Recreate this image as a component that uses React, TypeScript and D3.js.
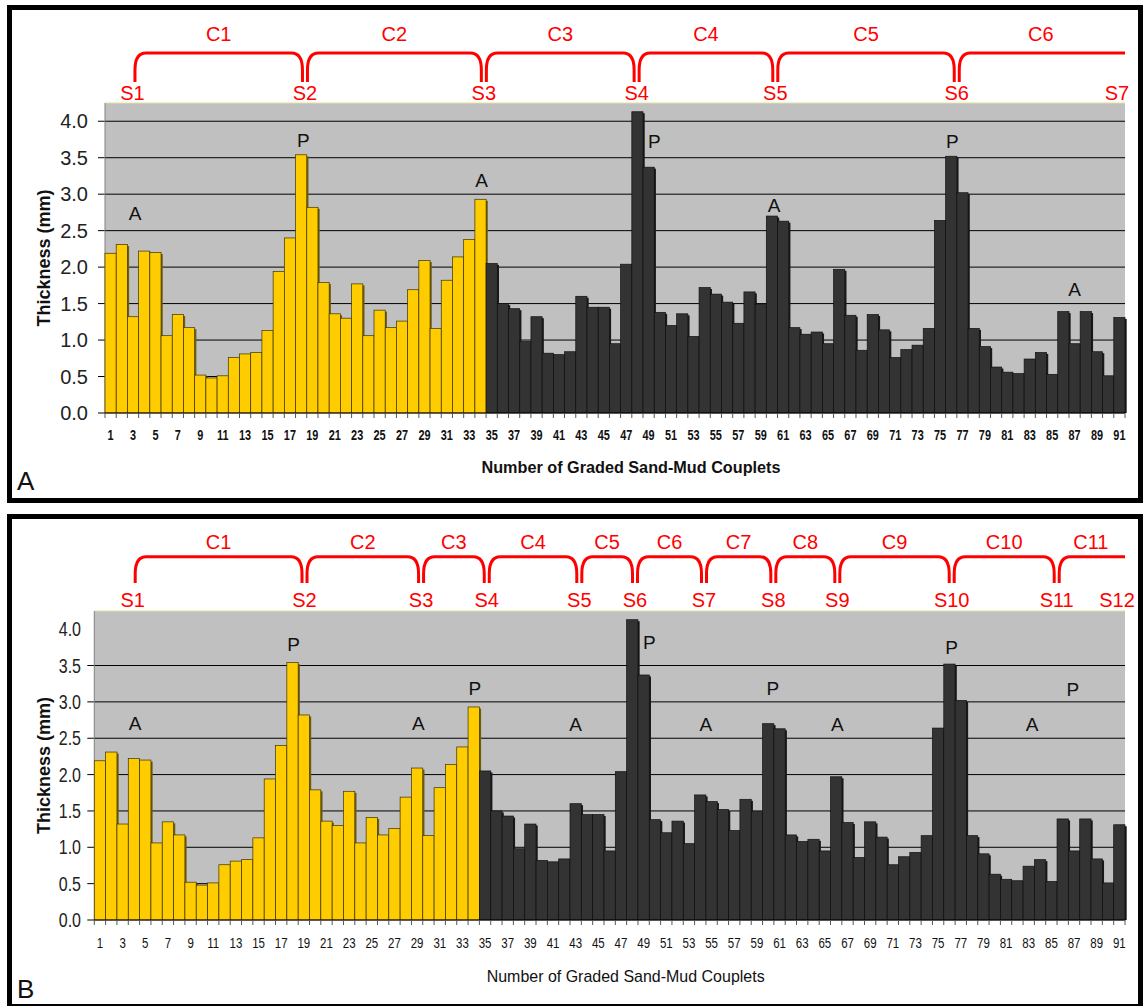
import * as d3 from "d3";

// thickness (mm) of each graded sand-mud couplet, 1..91
const thickness = [
  2.19, 2.31, 1.32, 2.22, 2.2, 1.06, 1.35, 1.17, 0.52, 0.48,
  0.51, 0.76, 0.81, 0.83, 1.13, 1.94, 2.4, 3.54, 2.82, 1.79,
  1.36, 1.3, 1.77, 1.06, 1.41, 1.17, 1.26, 1.69, 2.09, 1.16,
  1.82, 2.14, 2.38, 2.93, 2.05, 1.5, 1.43, 0.98, 1.32, 0.82,
  0.8, 0.84, 1.6, 1.45, 1.45, 0.95, 2.04, 4.13, 3.37, 1.38,
  1.2, 1.36, 1.05, 1.72, 1.63, 1.52, 1.23, 1.66, 1.49, 2.7,
  2.63, 1.17, 1.08, 1.11, 0.95, 1.97, 1.34, 0.86, 1.35, 1.14,
  0.76, 0.87, 0.93, 1.16, 2.64, 3.52, 3.02, 1.16, 0.91, 0.63,
  0.56, 0.54, 0.74, 0.83, 0.53, 1.39, 0.95, 1.39, 0.84, 0.51,
  1.31,
];
const couplets = thickness.map((_, i) => i + 1);
const yellowCount = 34; // first couplets drawn in yellow

const yTicks = [0, 0.5, 1, 1.5, 2, 2.5, 3, 3.5, 4];

// sequence boundaries, in couplet units from the left edge of the axis
const seqA = [2.45, 17.84, 33.8, 47.43, 59.8, 75.99, 91];
const seqB = [3.39, 18.56, 28.85, 34.65, 42.82, 47.74, 53.83, 59.95, 65.6, 75.7, 84.97, 91];

// A / P marks: position in couplet units, height in mm
const marksA = [
  { t: "A", pos: 2.68, v: 2.74 },
  { t: "P", pos: 17.7, v: 3.74 },
  { t: "A", pos: 33.6, v: 3.19 },
  { t: "P", pos: 49.0, v: 3.73 },
  { t: "A", pos: 59.7, v: 2.84 },
  { t: "P", pos: 75.6, v: 3.73 },
  { t: "A", pos: 86.5, v: 1.7 },
];
const marksB = [
  { t: "A", pos: 3.6, v: 2.7 },
  { t: "P", pos: 17.6, v: 3.79 },
  { t: "A", pos: 28.6, v: 2.7 },
  { t: "P", pos: 33.6, v: 3.19 },
  { t: "A", pos: 42.5, v: 2.69 },
  { t: "P", pos: 49.0, v: 3.82 },
  { t: "A", pos: 54.0, v: 2.69 },
  { t: "P", pos: 59.9, v: 3.19 },
  { t: "A", pos: 65.6, v: 2.69 },
  { t: "P", pos: 75.7, v: 3.75 },
  { t: "A", pos: 82.8, v: 2.69 },
  { t: "P", pos: 86.4, v: 3.17 },
];

const RED = "#ff0000";

type Cfg = {
  name: string;
  frameTop: number;
  frameBottom: number;
  left: number;
  right: number;
  top: number;
  bottom: number;
  seq: number[];
  marks: { t: string; pos: number; v: number }[];
  gridMax: number;
  brTop: number;
  brBot: number;
  cY: number;
  sY: number;
  yLabX: number;
  yLabScale: number;
  xLabY: number;
  xLabBold: boolean;
  xLabScale: number;
  titleY: number;
  titleBold: boolean;
  titleSize: number;
  titleLen: number;
  panelY: number;
};

function bracket(a: number, b: number, top: number, bot: number, open: boolean) {
  const rx = 11, ry = 17;
  let p = `M${a},${bot} L${a},${top + ry} Q${a},${top} ${a + rx},${top}`;
  if (open) p += ` L${b},${top}`;
  else p += ` L${b - rx},${top} Q${b},${top} ${b},${top + ry} L${b},${bot}`;
  return p;
}

function Panel({ c }: { c: Cfg }) {
  const x = d3.scaleBand<number>().domain(couplets).range([c.left, c.right]).padding(0);
  const xl = d3.scaleLinear().domain([0, 91]).range([c.left, c.right]);
  const y = d3.scaleLinear().domain([0, 4.25]).range([c.bottom, c.top]);
  const bw = x.bandwidth();
  const n = c.seq.length;

  return (
    <g>
      <rect x={9.5} y={c.frameTop + 2.5} width={1131} height={c.frameBottom - c.frameTop - 5}
        fill="#fff" stroke="#000" strokeWidth={5} />

      {/* brackets */}
      {c.seq.slice(0, -1).map((s, i) => {
        const open = i === n - 2;
        const a = xl(s) + 2.5;
        const b = open ? xl(c.seq[i + 1]) : xl(c.seq[i + 1]) - 2.5;
        return (
          <g key={"br" + i}>
            <path d={bracket(a, b, c.brTop, c.brBot, open)} fill="none" stroke={RED} strokeWidth={3} />
            <text x={(xl(s) + xl(c.seq[i + 1])) / 2} y={c.cY} dy="0.35em" textAnchor="middle"
              fontSize={20} fill={RED}>{"C" + (i + 1)}</text>
          </g>
        );
      })}
      {c.seq.map((s, i) => (
        <text key={"s" + i} x={i === n - 1 ? xl(s) - 8 : xl(s)} y={c.sY} dy="0.35em" textAnchor="middle"
          fontSize={20} fill={RED}>{"S" + (i + 1)}</text>
      ))}

      {/* plot area */}
      <rect x={c.left} y={c.top} width={c.right - c.left} height={c.bottom - c.top} fill="#c0c0c0" />
      <line x1={c.left} x2={c.right} y1={c.top - 0.5} y2={c.top - 0.5} stroke="#f2f2c4" strokeWidth={1.5} />
      {yTicks.filter((t) => t > 0 && t <= c.gridMax).map((t) => (
        <line key={"g" + t} x1={c.left - 7} x2={c.right} y1={y(t)} y2={y(t)} stroke="#000" strokeWidth={1} />
      ))}
      <line x1={c.left} x2={c.left} y1={c.top} y2={c.bottom} stroke="#808080" />

      {/* bars */}
      {thickness.map((v, i) => {
        const xi = x(i + 1)!;
        const yel = i < yellowCount;
        return (
          <g key={"b" + i}>
            <rect x={xi + bw - 0.5} y={y(v) + 1.5} width={2.2} height={c.bottom - y(v) - 1.5}
              fill={yel ? "#6e5e10" : "#1a1a1a"} />
            <rect x={xi} y={y(v)} width={bw} height={c.bottom - y(v)}
              fill={yel ? "#ffcc00" : "#333333"} stroke={yel ? "#3b3300" : "#111"} strokeWidth={0.7} />
          </g>
        );
      })}

      {/* x axis */}
      <line x1={c.left - 7} x2={c.right} y1={c.bottom} y2={c.bottom} stroke="#000" strokeWidth={1} />
      {couplets.concat([92]).map((k) => {
        const xx = k === 92 ? c.right : x(k)!;
        return <line key={"t" + k} x1={xx} x2={xx} y1={c.bottom} y2={c.bottom + 5} stroke="#555" />;
      })}
      {couplets.filter((k) => k % 2 === 1).map((k) => (
        <text key={"xl" + k} transform={`translate(${x(k)! + bw / 2},${c.xLabY}) scale(${c.xLabScale},1)`}
          textAnchor="middle" fontSize={14} fontWeight={c.xLabBold ? "bold" : "normal"} fill="#111">{k}</text>
      ))}

      {/* y axis labels */}
      {yTicks.map((t) => (
        <text key={"yl" + t} transform={`translate(${c.yLabX},${y(t)}) scale(${c.yLabScale},1)`}
          dy="0.35em" textAnchor="end" fontSize={20} fill="#222">{t.toFixed(1)}</text>
      ))}
      <text transform={`translate(50,${(c.top + c.bottom) / 2}) rotate(-90)`} textAnchor="middle"
        fontSize={18} fontWeight="bold" fill="#111">Thickness (mm)</text>

      <text x={(c.left + c.right) / 2 + 16} y={c.titleY} textAnchor="middle" fontSize={c.titleSize}
        fontWeight={c.titleBold ? "bold" : "normal"} textLength={c.titleLen} lengthAdjust="spacingAndGlyphs"
        fill="#111">Number of Graded Sand-Mud Couplets</text>

      {/* A / P marks */}
      {c.marks.map((m, i) => (
        <text key={"m" + i} x={xl(m.pos)} y={y(m.v)} dy="0.35em" textAnchor="middle" fontSize={19}
          fill="#111">{m.t}</text>
      ))}

      <text x={17} y={c.panelY} fontSize={26} fill="#111">{c.name}</text>
    </g>
  );
}

const panelA: Cfg = {
  name: "A", frameTop: 5, frameBottom: 503, left: 105, right: 1125, top: 103, bottom: 413,
  seq: seqA, marks: marksA, gridMax: 4, brTop: 53, brBot: 82, cY: 34, sY: 92.5,
  yLabX: 88, yLabScale: 1, xLabY: 440, xLabBold: true, xLabScale: 0.78,
  titleY: 473, titleBold: true, titleSize: 16, titleLen: 299, panelY: 490,
};

const panelB: Cfg = {
  name: "B", frameTop: 514, frameBottom: 1009, left: 94.3, right: 1125, top: 611, bottom: 920,
  seq: seqB, marks: marksB, gridMax: 3.5, brTop: 556.7, brBot: 583, cY: 541.7, sY: 600,
  yLabX: 81, yLabScale: 0.8, xLabY: 948, xLabBold: false, xLabScale: 0.82,
  titleY: 981.5, titleBold: false, titleSize: 17, titleLen: 278, panelY: 998,
};

export default function App() {
  return (
    <svg width={1143} height={1006} style={{ position: "absolute", left: 0, top: 0, background: "#fff" }}
      fontFamily="'Liberation Sans', Arial, sans-serif">
      <Panel c={panelA} />
      <Panel c={panelB} />
    </svg>
  );
}
